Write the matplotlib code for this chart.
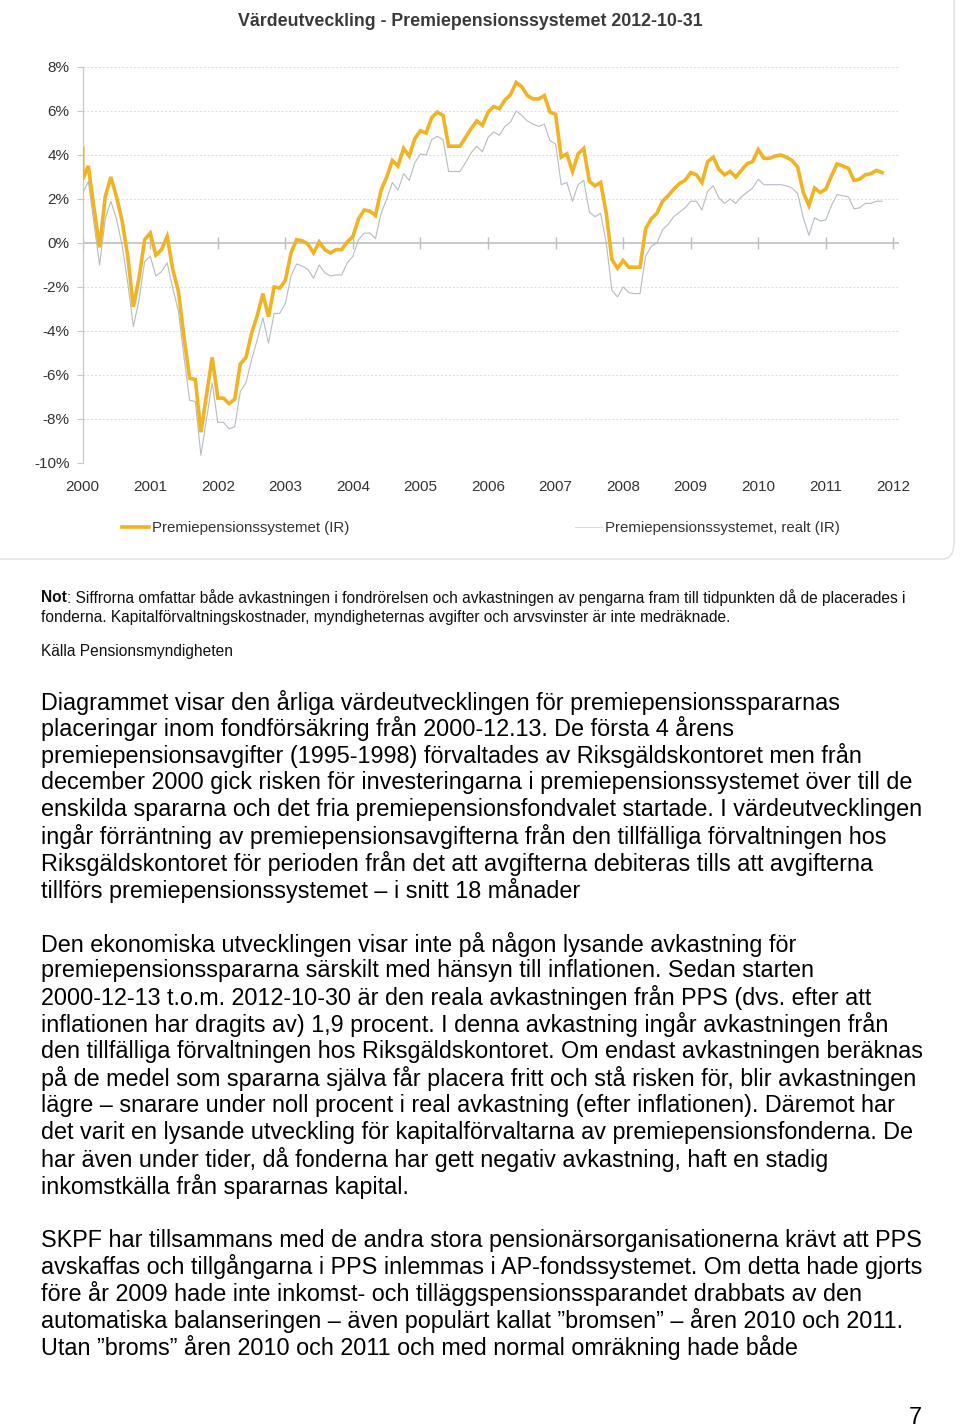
import numpy as np
import pandas as pd
import matplotlib
matplotlib.use("Agg")
import matplotlib.pyplot as plt
from matplotlib.patches import FancyBboxPatch

plt.rcParams["font.family"] = ["Liberation Sans", "DejaVu Sans"]

# -------------------------
# DATA
# -------------------------

# first point is the start day 2000-12-13, then month ends 2000-12 .. 2012-10
dates = pd.to_datetime(["2000-12-13"]).append(
    pd.date_range("2000-12-31", "2012-10-31", freq="ME"))

nominal = [
    4.3, 2.9, 3.5, 1.6, -0.2, 2.1, 3.0, 2.1, 1.0, -0.6, -2.9, -1.6, 0.15,
    0.45, -0.55, -0.3, 0.3, -1.2, -2.2, -4.3, -6.15, -6.2, -8.6, -6.9, -5.2,
    -7.05, -7.05, -7.3, -7.1, -5.5, -5.2, -4.1, -3.3, -2.3, -3.35, -2.0, -2.05,
    -1.7, -0.45, 0.15, 0.1, -0.05, -0.45, 0.05, -0.3, -0.45, -0.3, -0.3, 0.05,
    0.3, 1.1, 1.5, 1.45, 1.25, 2.4, 3.0, 3.75, 3.5, 4.3, 3.95, 4.75,
    5.1, 5.0, 5.7, 5.95, 5.8, 4.4, 4.4, 4.4, 4.8, 5.2, 5.55, 5.35,
    5.95, 6.2, 6.1, 6.5, 6.75, 7.3, 7.1, 6.7, 6.55, 6.55, 6.7, 5.95,
    5.85, 3.9, 4.05, 3.25, 4.05, 4.3, 2.8, 2.6, 2.75, 1.35, -0.75, -1.15,
    -0.8, -1.1, -1.1, -1.1, 0.65, 1.1, 1.35, 1.9, 2.15, 2.45, 2.7, 2.85,
    3.2, 3.1, 2.75, 3.7, 3.9, 3.35, 3.1, 3.25, 3.0, 3.3, 3.6, 3.7,
    4.25, 3.85, 3.85, 3.95, 4.0, 3.9, 3.75, 3.45, 2.3, 1.7, 2.5, 2.3,
    2.45, 3.05, 3.6, 3.5, 3.4, 2.85, 2.9, 3.1, 3.15, 3.3, 3.2,
]

real = [
    2.25, 2.25, 2.8, 0.9, -1.0, 1.1, 1.9, 1.1, -0.1, -1.8, -3.8, -2.6, -0.85,
    -0.6, -1.5, -1.3, -0.9, -2.05, -3.1, -5.2, -7.15, -7.2, -9.65, -8.0, -6.35,
    -8.15, -8.15, -8.45, -8.35, -6.75, -6.35, -5.3, -4.4, -3.4, -4.55, -3.2, -3.2,
    -2.75, -1.5, -0.95, -1.05, -1.2, -1.6, -1.0, -1.35, -1.5, -1.45, -1.45, -0.9,
    -0.6, 0.15, 0.45, 0.45, 0.2, 1.35, 2.0, 2.75, 2.4, 3.15, 2.85, 3.65,
    4.05, 4.0, 4.7, 4.85, 4.7, 3.25, 3.25, 3.25, 3.65, 4.1, 4.4, 4.15,
    4.8, 5.05, 4.9, 5.3, 5.5, 6.0, 5.8, 5.55, 5.4, 5.3, 5.4, 4.65,
    4.5, 2.65, 2.75, 1.9, 2.65, 2.85, 1.4, 1.2, 1.35, 0.0, -2.15, -2.45,
    -2.0, -2.25, -2.3, -2.3, -0.6, -0.15, 0.0, 0.6, 0.85, 1.2, 1.4, 1.6,
    1.9, 1.9, 1.5, 2.35, 2.6, 2.05, 1.8, 2.0, 1.8, 2.1, 2.3, 2.5,
    2.9, 2.65, 2.65, 2.65, 2.65, 2.6, 2.5, 2.25, 1.15, 0.35, 1.15, 1.0,
    1.05, 1.7, 2.2, 2.15, 2.1, 1.55, 1.6, 1.8, 1.8, 1.9, 1.9,
]

years = list(range(2000, 2013))
y_ticks = [8, 6, 4, 2, 0, -2, -4, -6, -8, -10]

title = "Värdeutveckling - Premiepensionssystemet 2012-10-31"
label_nominal = "Premiepensionssystemet (IR)"
label_real = "Premiepensionssystemet, realt (IR)"

note_bold = "Not"
note_lines = [
    ": Siffrorna omfattar både avkastningen i fondrörelsen och avkastningen av pengarna fram till tidpunkten då de placerades i",
    "fonderna. Kapitalförvaltningskostnader, myndigheternas avgifter och arvsvinster är inte medräknade.",
]
source = "Källa Pensionsmyndigheten"

paragraphs = [
    [
        "Diagrammet visar den årliga värdeutvecklingen för premiepensionsspararnas",
        "placeringar inom fondförsäkring från 2000-12.13. De första 4 årens",
        "premiepensionsavgifter (1995-1998) förvaltades av Riksgäldskontoret men från",
        "december 2000 gick risken för investeringarna i premiepensionssystemet över till de",
        "enskilda spararna och det fria premiepensionsfondvalet startade. I värdeutvecklingen",
        "ingår förräntning av premiepensionsavgifterna från den tillfälliga förvaltningen hos",
        "Riksgäldskontoret för perioden från det att avgifterna debiteras tills att avgifterna",
        "tillförs premiepensionssystemet – i snitt 18 månader",
    ],
    [
        "Den ekonomiska utvecklingen visar inte på någon lysande avkastning för",
        "premiepensionsspararna särskilt med hänsyn till inflationen. Sedan starten",
        "2000-12-13 t.o.m. 2012-10-30 är den reala avkastningen från PPS (dvs. efter att",
        "inflationen har dragits av) 1,9 procent. I denna avkastning ingår avkastningen från",
        "den tillfälliga förvaltningen hos Riksgäldskontoret. Om endast avkastningen beräknas",
        "på de medel som spararna själva får placera fritt och stå risken för, blir avkastningen",
        "lägre – snarare under noll procent i real avkastning (efter inflationen). Däremot har",
        "det varit en lysande utveckling för kapitalförvaltarna av premiepensionsfonderna. De",
        "har även under tider, då fonderna har gett negativ avkastning, haft en stadig",
        "inkomstkälla från spararnas kapital.",
    ],
    [
        "SKPF har tillsammans med de andra stora pensionärsorganisationerna krävt att PPS",
        "avskaffas och tillgångarna i PPS inlemmas i AP-fondssystemet. Om detta hade gjorts",
        "före år 2009 hade inte inkomst- och tilläggspensionssparandet drabbats av den",
        "automatiska balanseringen – även populärt kallat ”bromsen” – åren 2010 och 2011.",
        "Utan ”broms” åren 2010 och 2011 och med normal omräkning hade både",
    ],
]
page_number = "7"

# -------------------------
# FIGURE
# -------------------------

W, H = 960, 1427
fig = plt.figure(figsize=(W / 100, H / 100), dpi=100)
fig.patch.set_facecolor("white")

def fy(py):
    return 1 - py / H

def fx(px):
    return px / W

# chart frame
frame = FancyBboxPatch((fx(-20), fy(559)), fx(974), 559 / H + 0.02,
                       boxstyle="round,pad=0,rounding_size=0.012",
                       transform=fig.transFigure, facecolor="none",
                       edgecolor="#e3e3e3", linewidth=1.2, zorder=-1)
fig.patches.append(frame)

fig.text(fx(470), fy(22), title, ha="center", va="center",
         fontsize=12.8, fontweight="bold", color="#3a3a3a")

ax = fig.add_axes([fx(82.7), fy(463), fx(899 - 82.7), (463 - 67) / H])
ax.set_facecolor("none")

# month index, both december 2000 points share category 0
months = (dates.year - 2000) * 12 + dates.month - 12
tick_pos = [(y - 2000) * 12 for y in years]

ax.plot(months, real, color="#b4bcc4", linewidth=0.8, zorder=3)
ax.plot(months, nominal, color="#f0b323", linewidth=2.6, zorder=4,
        solid_joinstyle="miter")

ax.set_xlim(0, 145)
ax.set_ylim(-10, 8)

for v in y_ticks:
    if v != 0:
        ax.axhline(v, color="#d9d9d9", linewidth=0.8, linestyle=(0, (1.5, 2)), zorder=1)
ax.axhline(0, color="#bfbfbf", linewidth=1.2, zorder=2)
ax.plot(tick_pos, [0] * len(tick_pos), linestyle="none", marker="|",
        markersize=9, markeredgewidth=1.0, color="#bfbfbf", zorder=2)

for side in ["top", "right", "bottom"]:
    ax.spines[side].set_visible(False)
ax.spines["left"].set_color("#c8c8c8")
ax.spines["left"].set_linewidth(0.9)

ax.set_yticks(y_ticks)
ax.set_yticklabels([f"{v}%" for v in y_ticks], fontsize=11, color="#333333")
ax.tick_params(axis="y", length=4, color="#c8c8c8", pad=5.5)
ax.set_xticks(tick_pos)
ax.set_xticklabels([str(y) for y in years], fontsize=11, color="#333333")
ax.tick_params(axis="x", length=0, pad=12)

# legend
leg = fig.legend(
    handles=[
        plt.Line2D([], [], color="#f0b323", linewidth=2.6),
        plt.Line2D([], [], color="#d8dcdf", linewidth=0.8),
    ],
    labels=[label_nominal, label_real],
    loc="center", bbox_to_anchor=(fx(481), fy(528)), ncol=2, frameon=False,
    fontsize=10.8, handlelength=1.8, handletextpad=0.2, columnspacing=15.0,
    labelcolor="#333333",
)

# note and source
note_size = 11.2
t = fig.text(fx(41), fy(598), note_bold, ha="left", va="center",
             fontsize=note_size, fontweight="bold", color="#111111")
fig.canvas.draw()
bb = t.get_window_extent()
fig.text(bb.x1 / W, fy(598), note_lines[0], ha="left", va="center",
         fontsize=note_size, color="#111111")
fig.text(fx(41), fy(617), note_lines[1], ha="left", va="center",
         fontsize=note_size, color="#111111")
fig.text(fx(41), fy(652), source, ha="left", va="center",
         fontsize=note_size, color="#111111")

# body text
y = 702
for para in paragraphs:
    for line in para:
        fig.text(fx(41), fy(y), line, ha="left", va="center",
                 fontsize=16.8, color="#000000")
        y += 26.9
    y += 26.9

fig.text(fx(922), fy(1417), page_number, ha="right", va="center",
         fontsize=16.8, color="#000000")

fig.savefig("out.png", dpi=100)
